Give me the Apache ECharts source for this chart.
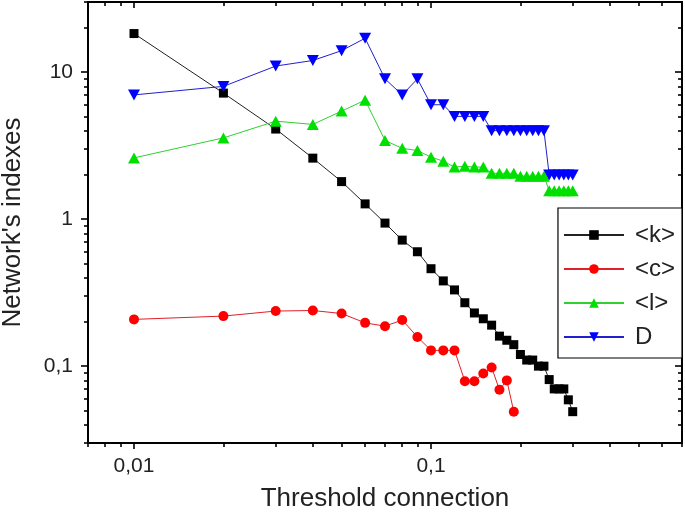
<!DOCTYPE html>
<html>
<head>
<meta charset="utf-8">
<script src="https://cdn.jsdelivr.net/npm/echarts@6/dist/echarts.min.js"></script>
<style>
html,body{margin:0;padding:0;background:#fff;}
#chart{width:685px;height:519px;}
</style>
</head>
<body>
<div id="chart"></div>
<script>
// ---- data ----
var thresholds = [0.01,0.02,0.03,0.04,0.05,0.06,0.07,0.08,0.09,0.10,
                  0.11,0.12,0.13,0.14,0.15,0.16,0.17,0.18,0.19,0.20,
                  0.21,0.22,0.23,0.24,0.25,0.26,0.27,0.28,0.29,0.30];
var kValues = [18.3,7.2,4.1,2.6,1.8,1.27,0.94,0.72,0.60,0.46,
               0.38,0.33,0.27,0.23,0.21,0.19,0.16,0.15,0.14,0.12,
               0.11,0.11,0.10,0.10,0.081,0.07,0.07,0.07,0.059,0.049];
var cValues = [0.208,0.219,0.237,0.239,0.228,0.197,0.187,0.206,0.158,0.128,
               0.128,0.128,0.079,0.079,0.089,0.098,0.069,0.080,0.049];
var lValues = [2.61,3.57,4.64,4.41,5.43,6.45,3.43,3.03,2.93,2.64,
               2.48,2.26,2.29,2.26,2.26,2.05,2.05,2.05,2.05,1.96,
               1.96,1.96,1.96,1.96,1.56,1.56,1.56,1.56,1.56,1.56];
var dValues = [7,8,11,12,14,17,9,7,9,6,
               6,5,5,5,5,4,4,4,4,4,
               4,4,4,4,2,2,2,2,2,2];
var seriesNames = ['<k>','<c>','<l>','D'];

// axis ranges and tick values
var xRange = [0.007, 0.7];
var yRange = [0.03, 30];
var xMajorTicks = [0.01, 0.1];
var xMinorTicks = [0.007,0.008,0.009,0.02,0.03,0.04,0.05,0.06,0.07,0.08,0.09,0.2,0.3,0.4,0.5,0.6,0.7];
var yMajorTicks = [0.1, 1, 10];
var yMinorTicks = [0.03,0.04,0.05,0.06,0.07,0.08,0.09,0.2,0.3,0.4,0.5,0.6,0.7,0.8,0.9,
                   2,3,4,5,6,7,8,9,20,30];

// ---- build ----
var L = Math.log10;
function pairs(xs, ys){ return ys.map(function(v,i){ return [xs[i], v]; }); }
function logs(arr){ return arr.map(function(v){ return L(v); }); }
var FONT = 'Liberation Sans';

function fmt(v){
  var l = Math.log10(v);
  if (Math.abs(l - Math.round(l)) > 1e-6) return '';
  return String(v).replace('.', ',');
}

function decoAxis(pos, range, ticks, len, inside){
  return {
    type:'value', position:pos, min:L(range[0]), max:L(range[1]),
    axisLine:{show:false, onZero:false},
    axisTick:{show:true, customValues:logs(ticks), length:len, inside:inside,
              lineStyle:{color:'#000', width:1.6}},
    axisLabel:{show:false}, splitLine:{show:false}
  };
}

var chart = echarts.init(document.getElementById('chart'));
var option = {
  backgroundColor:'#fff',
  animation:false,
  textStyle:{fontFamily:FONT},
  grid:{left:88, right:3, top:2, bottom:76, show:true, borderColor:'#000', borderWidth:2,
        backgroundColor:'transparent', containLabel:false, outerBoundsMode:'none'},
  legend:{
    orient:'vertical', right:3, top:208,
    data:seriesNames,
    itemWidth:60, itemHeight:12, itemGap:10,
    padding:[15,7,9,5],
    borderColor:'#000', borderWidth:1.2, backgroundColor:'#fff',
    textStyle:{fontFamily:FONT, fontSize:24, color:'#222', padding:[0,0,0,6]}
  },
  xAxis:[
    {type:'log', logBase:10, position:'bottom', min:xRange[0], max:xRange[1],
     name:'Threshold connection', nameLocation:'middle', nameGap:43,
     nameTextStyle:{fontFamily:FONT, fontSize:26, color:'#222'},
     axisLine:{show:false, onZero:false}, axisTick:{show:false}, splitLine:{show:false},
     axisLabel:{formatter:fmt, margin:13, fontFamily:FONT, fontSize:21, color:'#222'}},
    decoAxis('bottom', xRange, xMajorTicks, 6, false),
    decoAxis('bottom', xRange, xMinorTicks, 4, false),
    decoAxis('top', xRange, xMajorTicks, 6, true),
    decoAxis('top', xRange, xMinorTicks, 4, true)
  ],
  yAxis:[
    {type:'log', logBase:10, position:'left', min:yRange[0], max:yRange[1],
     name:"Network's indexes", nameLocation:'middle', nameGap:62, nameRotate:90,
     nameTextStyle:{fontFamily:FONT, fontSize:26, color:'#222'},
     axisLine:{show:false, onZero:false}, axisTick:{show:false}, splitLine:{show:false},
     axisLabel:{formatter:fmt, margin:15, fontFamily:FONT, fontSize:21, color:'#222'}},
    decoAxis('left', yRange, yMajorTicks, 7, false),
    decoAxis('left', yRange, yMinorTicks, 4, false),
    decoAxis('right', yRange, yMajorTicks, 7, true),
    decoAxis('right', yRange, yMinorTicks, 4, true)
  ],
  series:[
    {name:seriesNames[0], type:'line', data:pairs(thresholds,kValues),
     symbol:'rect', symbolSize:9, itemStyle:{color:'#000'}, lineStyle:{color:'#222', width:1}},
    {name:seriesNames[1], type:'line', data:pairs(thresholds,cValues),
     symbol:'circle', symbolSize:10, itemStyle:{color:'#ff0000'}, lineStyle:{color:'#e0202a', width:1}},
    {name:seriesNames[2], type:'line', data:pairs(thresholds,lValues),
     symbol:'triangle', symbolSize:[12,11], itemStyle:{color:'#00e000'}, lineStyle:{color:'#30d030', width:1}},
    {name:seriesNames[3], type:'line', data:pairs(thresholds,dValues),
     symbol:'triangle', symbolRotate:180, symbolSize:[12,11], itemStyle:{color:'#0000ff'}, lineStyle:{color:'#2020d0', width:1}}
  ]
};
chart.setOption(option);
</script>
</body>
</html>
